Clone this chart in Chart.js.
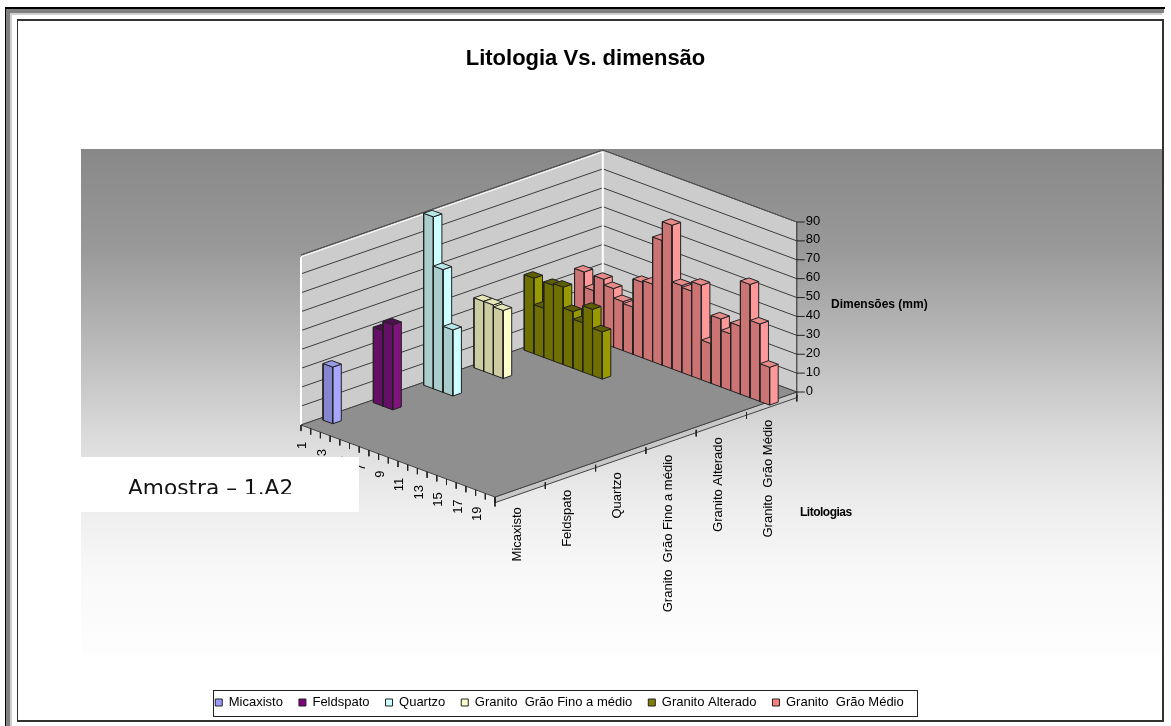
<!DOCTYPE html>
<html>
<head>
<meta charset="utf-8">
<style>
  html, body { margin: 0; padding: 0; background: #fff; }
  #wrap { width: 1171px; height: 726px; }
</style>
<script src="https://cdn.jsdelivr.net/npm/chart.js@4/dist/chart.umd.min.js"></script>
</head>
<body>
<div id="wrap"><canvas id="c" width="1171" height="726"></canvas></div>
<script>
// values, one array per lithology, position in the array = sample number
const micaxisto = [30];
const feldspato = [40, 45];
const quartzo = [91, 65, 35];
const granitoFino = [37, 37, 36];
const granitoAlterado = [40, 26, 40, 41, 30, 26, 35, 25];
const granitoMedio = [34, 26, 34, 31, 26, 25, 40, 41, 66, 76, 46, 45, 50, 21, 36, 30, 36, 60, 41, 20];

const seriesNames = ['Micaxisto', 'Feldspato', 'Quartzo', 'Granito  Grão Fino a médio', 'Granito Alterado', 'Granito  Grão Médio'];
const seriesValues = [micaxisto, feldspato, quartzo, granitoFino, granitoAlterado, granitoMedio];
const depthLabels = [1, 3, 5, 7, 9, 11, 13, 15, 17, 19];
const valueTicks = [0, 10, 20, 30, 40, 50, 60, 70, 80, 90];
const sampleCount = 20;

// left face, right face, top
const faceColors = [
  ['#8585d0', '#a6a6ff', '#9999e6'],
  ['#660f66', '#80147c', '#4d0f4d'],
  ['#a9cccc', '#ccffff', '#b8e6e6'],
  ['#cccca3', '#ffffcc', '#e6e6b8'],
  ['#707000', '#999900', '#5e5e00'],
  ['#cc7373', '#ff9999', '#e68a8a'],
];
const legendColors = ['#9999ff', '#800080', '#ccffff', '#ffffcc', '#808000', '#ff8080'];

// oblique projection: sample (u), lithology (s), value (z)
const origin = { x: 301, y: 425 };
const uVec = { x: 9.7, y: 3.6 };
const sVec = { x: 50.3, y: -17.5 };
const zStep = 170 / 90;

function project(u, s, z) {
  return {
    x: origin.x + u * uVec.x + s * sVec.x,
    y: origin.y + u * uVec.y + s * sVec.y - z * zStep,
  };
}

const datasets = [];
function poly(points, fill, stroke, width) {
  const closed = fill ? points.concat([points[0]]) : points;
  datasets.push({
    data: closed.map(p => project(p[0], p[1], p[2])),
    fill: fill ? 'shape' : false,
    backgroundColor: fill || 'transparent',
    borderColor: stroke || 'transparent',
    borderWidth: width === undefined ? 1 : width,
    pointRadius: 0,
    tension: 0,
    clip: false,
    order: -datasets.length,
  });
}

// walls
const topV = 90;
poly([[0, 0, 0], [0, 6, 0], [0, 6, topV], [0, 0, topV]], '#cccccc');
poly([[0, 6, 0], [20, 6, 0], [20, 6, topV], [0, 6, topV]], '#cccccc');
valueTicks.forEach(v => {
  poly([[0, 0, v], [0, 6, v], [20, 6, v]], null, '#3c3c3c');
});
poly([[0, 0, topV], [0, 6, topV], [20, 6, topV]], null, '#555555');
poly([[0, 0, topV - 1], [0, 6, topV - 1]], null, '#ffffff');
poly([[0, 0, 0], [0, 0, topV - 1]], null, '#ffffff', 2);
poly([[0, 6, 0], [0, 6, topV - 1]], null, '#ffffff', 2);

// floor with its thin plate on the front right side
poly([[20, 0, -3], [20, 6, -3], [20, 6, 0], [20, 0, 0]], '#c8c8c8', '#444444');
poly([[0, 0, 0], [20, 0, 0], [20, 6, 0], [0, 6, 0]], '#8f8f8f', '#444444');

// bars, far ones first
const barDepth = 1.006;
const barWidth = 0.17;
for (let i = seriesValues.length - 1; i >= 0; i--) {
  const [leftCol, rightCol, topCol] = faceColors[i];
  const s0 = i + 0.36;
  const s1 = s0 + barWidth;
  seriesValues[i].forEach((v, k) => {
    const u1 = (k + 1) * barDepth + 0.4;
    const u0 = u1 - 1;
    poly([[u0, s0, 0], [u1, s0, 0], [u1, s0, v], [u0, s0, v]], leftCol, '#222222');
    poly([[u1, s0, 0], [u1, s1, 0], [u1, s1, v], [u1, s0, v]], rightCol, '#222222');
    poly([[u0, s0, v], [u1, s0, v], [u1, s1, v], [u0, s1, v]], topCol, '#222222');
  });
}

// axis ticks
for (let k = 0; k <= sampleCount; k++) {
  poly([[k, 0, 0], [k, 0, -3.2]], null, '#222222');
}
for (let i = 0; i <= seriesNames.length; i++) {
  poly([[20, i, -1.5], [20, i, -5]], null, '#222222');
}
poly([[20, 6, -3], [20, 6, topV]], null, '#222222');

const frameAndBackdrop = {
  id: 'frameAndBackdrop',
  afterLayout(chart) {
    // legend sits left of centre and higher than the layout would put it
    const l = chart.legend;
    l.left -= 26;
    l.right -= 26;
    l.top = 680;
  },
  beforeDraw(chart) {
    const ctx = chart.ctx;
    ctx.save();
    ctx.fillStyle = '#ffffff';
    ctx.fillRect(0, 0, 1171, 726);
    const grad = ctx.createLinearGradient(0, 149, 0, 660);
    [[149, '#888888'], [250, '#999999'], [357, '#bebebe'], [440, '#dcdcdc'], [500, '#ececec'], [570, '#f8f8f8'], [650, '#fdfdfd'], [660, '#ffffff']]
      .forEach(([y, c]) => grad.addColorStop((y - 149) / 511, c));
    ctx.fillStyle = grad;
    ctx.fillRect(81, 149, 1081, 511);
    // window frame
    ctx.fillStyle = '#000000';
    ctx.fillRect(5, 7, 1160, 2);
    ctx.fillRect(5, 7, 1, 719);
    ctx.fillStyle = '#808080';
    ctx.fillRect(6, 9, 1158, 4);
    ctx.fillRect(6, 9, 4, 717);
    ctx.fillStyle = '#cfcfcf';
    ctx.fillRect(10, 13, 1152, 2);
    ctx.fillRect(10, 13, 2, 713);
    ctx.fillStyle = '#333333';
    ctx.fillRect(17, 19, 1146, 2);
    ctx.fillRect(17, 19, 1, 702);
    ctx.fillRect(1162, 19, 2, 702);
    ctx.fillRect(17, 720, 1147, 2);
    ctx.restore();
  },
};

const axisText = {
  id: 'axisText',
  afterDatasetsDraw(chart) {
    const ctx = chart.ctx;
    const sx = chart.scales.x;
    const sy = chart.scales.y;
    const toPx = (u, s, z) => {
      const p = project(u, s, z);
      return { x: sx.getPixelForValue(p.x), y: sy.getPixelForValue(p.y) };
    };
    ctx.save();
    ctx.fillStyle = '#000000';
    ctx.font = '13px "Liberation Sans"';
    const rotated = (text, x, y) => {
      ctx.save();
      ctx.translate(x, y);
      ctx.rotate(-Math.PI / 2);
      ctx.textAlign = 'right';
      ctx.textBaseline = 'middle';
      ctx.fillText(text, 0, 0);
      ctx.restore();
    };
    depthLabels.forEach(n => {
      const p = toPx(n - 0.5, 0, 0);
      rotated(String(n), p.x - 3, p.y + 15);
    });
    seriesNames.forEach((name, i) => {
      const p = toPx(20, i + 0.5, 0);
      rotated(name, p.x - 3, p.y + 19);
    });
    ctx.textAlign = 'left';
    ctx.textBaseline = 'middle';
    ctx.strokeStyle = '#222222';
    ctx.lineWidth = 1;
    valueTicks.forEach(v => {
      const p = toPx(20, 6, v);
      ctx.beginPath();
      ctx.moveTo(p.x, p.y);
      ctx.lineTo(p.x + 8, p.y);
      ctx.stroke();
      ctx.fillText(String(v), p.x + 9, p.y - 1);
    });
    // axis titles
    ctx.font = 'bold 12px "Liberation Sans"';
    ctx.fillText('Dimensões (mm)', 831, 305);
    ctx.letterSpacing = '-0.5px';
    ctx.fillText('Litologias', 800, 513);
    ctx.letterSpacing = '0px';

    // white sample box over the chart, its text is cut at the bottom in the original
    ctx.fillStyle = '#ffffff';
    ctx.fillRect(81, 457, 278, 55);
    ctx.beginPath();
    ctx.rect(81, 457, 278, 37);
    ctx.clip();
    ctx.fillStyle = '#111111';
    ctx.font = '21.7px "DejaVu Sans"';
    ctx.textBaseline = 'alphabetic';
    ctx.fillText('Amostra – 1.A2', 128, 495);
    ctx.restore();
  },
};

const legendBox = {
  id: 'legendBox',
  beforeDatasetsDraw(chart) {
    const ctx = chart.ctx;
    ctx.save();
    ctx.strokeStyle = '#222222';
    ctx.lineWidth = 1;
    ctx.strokeRect(213.5, 690.5, 704, 26);
    ctx.restore();
  },
};

new Chart(document.getElementById('c'), {
  type: 'line',
  data: { datasets },
  plugins: [frameAndBackdrop, legendBox, axisText],
  options: {
    responsive: false,
    animation: false,
    events: [],
    layout: { padding: { left: 0, right: 0, top: 0, bottom: 0 } },
    scales: {
      x: { type: 'linear', display: false, min: 0, max: 1171 },
      y: { type: 'linear', display: false, min: 76.4, max: 687, reverse: true },
    },
    plugins: {
      tooltip: { enabled: false },
      title: {
        display: true,
        text: 'Litologia Vs. dimensão',
        color: '#000000',
        font: { family: '"Liberation Sans"', size: 22, weight: 'bold' },
        padding: { top: 46, bottom: 4 },
      },
      legend: {
        display: true,
        position: 'bottom',
        labels: {
          font: { family: '"Liberation Sans"', size: 13 },
          color: '#000000',
          boxWidth: 7,
          boxHeight: 7,
          padding: 16,
          generateLabels: () => seriesNames.map((name, i) => ({
            text: name,
            fillStyle: legendColors[i],
            strokeStyle: '#222222',
            lineWidth: 1,
            hidden: false,
            datasetIndex: 0,
          })),
        },
      },
    },
  },
});
</script>
</body>
</html>
